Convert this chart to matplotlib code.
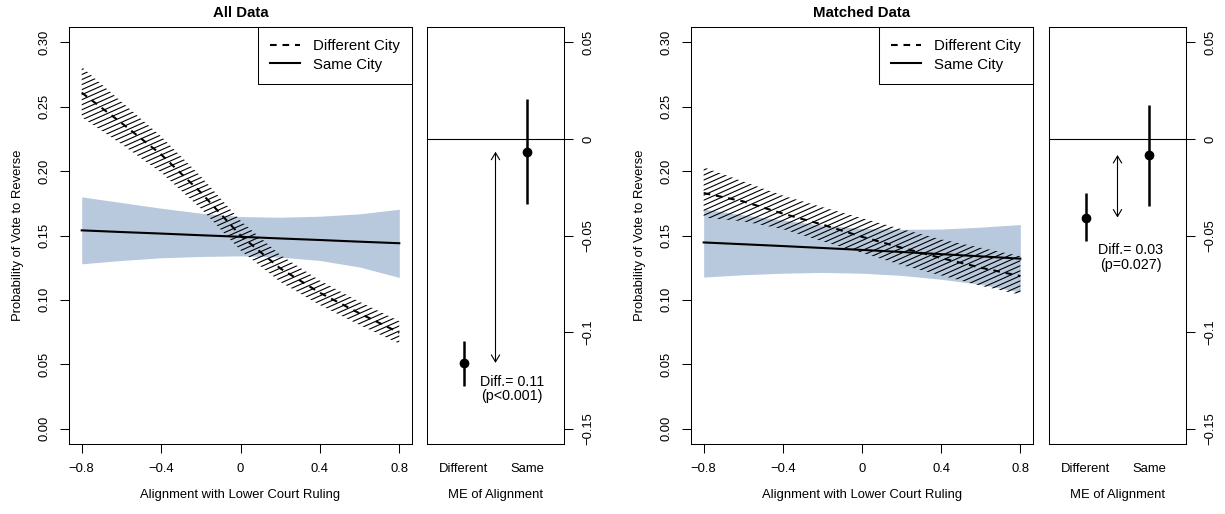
import numpy as np
import matplotlib
matplotlib.use('Agg')
import matplotlib.pyplot as plt
from matplotlib.collections import LineCollection
from matplotlib.patches import Polygon
from matplotlib.transforms import IdentityTransform

plt.rcParams['font.family'] = ['Liberation Sans', 'DejaVu Sans']

# predicted probabilities
x_grid = [-0.8, -0.6, -0.4, -0.2, 0.0, 0.2, 0.4, 0.6, 0.8]

all_diff_fit = [0.261, 0.2375, 0.213, 0.1835, 0.150, 0.1245, 0.1055, 0.0895, 0.0745]
all_diff_hi = [0.281, 0.254, 0.227, 0.196, 0.1615, 0.135, 0.115, 0.0985, 0.0835]
all_diff_lo = [0.242, 0.221, 0.199, 0.171, 0.1385, 0.114, 0.096, 0.0805, 0.066]
all_same_fit = [0.154, 0.1527, 0.1515, 0.1502, 0.149, 0.1477, 0.1465, 0.1452, 0.144]
all_same_hi = [0.180, 0.1756, 0.1712, 0.1673, 0.1647, 0.1642, 0.165, 0.1668, 0.1704]
all_same_lo = [0.128, 0.1306, 0.1327, 0.1337, 0.1342, 0.1332, 0.1306, 0.1255, 0.1174]

mat_diff_fit = [0.183, 0.1765, 0.167, 0.1585, 0.149, 0.1405, 0.1325, 0.125, 0.1185]
mat_diff_hi = [0.203, 0.192, 0.181, 0.172, 0.1635, 0.155, 0.147, 0.1405, 0.134]
mat_diff_lo = [0.164, 0.161, 0.155, 0.1455, 0.1365, 0.127, 0.119, 0.111, 0.104]
mat_same_fit = [0.1446, 0.1432, 0.1418, 0.1403, 0.1388, 0.1372, 0.1355, 0.1338, 0.132]
mat_same_hi = [0.1705, 0.166, 0.162, 0.158, 0.1555, 0.1548, 0.155, 0.1565, 0.1585]
mat_same_lo = [0.1177, 0.1195, 0.1207, 0.1213, 0.1207, 0.119, 0.116, 0.112, 0.106]

# marginal effects of alignment (estimate, lower, upper)
me_groups = ['Different', 'Same']
all_me_est = [-0.116, -0.0066]
all_me_lo = [-0.128, -0.0337]
all_me_hi = [-0.1046, 0.0207]
mat_me_est = [-0.0407, -0.0083]
mat_me_lo = [-0.0528, -0.0345]
mat_me_hi = [-0.0281, 0.0176]

all_note = "Diff.= 0.11\n(p<0.001)"
mat_note = "Diff.= 0.03\n(p=0.027)"

band_col = '#B8C9DD'
W, H = 1225, 514
fig = plt.figure(figsize=(W / 100, H / 100), dpi=100)


def add_ax(l, t, r, b):
    ax = fig.add_axes([l / W, 1 - b / H, (r - l) / W, (b - t) / H])
    for s in ax.spines.values():
        s.set_linewidth(0.75)
    return ax


def hatch_band(ax, x, lo, hi, angle=24, step=4.6):
    verts = list(zip(x, hi)) + list(zip(x[::-1], lo[::-1]))
    poly = Polygon(verts, closed=True, facecolor='none', edgecolor='none')
    ax.add_patch(poly)
    bb = ax.bbox
    cx, cy = (bb.x0 + bb.x1) / 2, (bb.y0 + bb.y1) / 2
    L = np.hypot(bb.width, bb.height)
    t = np.radians(angle)
    d = np.array([np.cos(t), np.sin(t)])
    n = np.array([-np.sin(t), np.cos(t)])
    segs = []
    for k in range(-int(L / step) - 1, int(L / step) + 2):
        p = np.array([cx, cy]) + k * step * n
        segs.append([p - L * d, p + L * d])
    lc = LineCollection(segs, colors='black', linewidths=0.8,
                        transform=IdentityTransform(), zorder=2)
    ax.add_collection(lc)
    lc.set_clip_path(poly)


def main_panel(ax, title, dfit, dlo, dhi, sfit, slo, shi):
    ax.fill_between(x_grid, slo, shi, color=band_col, lw=0, zorder=1)
    hatch_band(ax, x_grid, dlo, dhi)
    ax.plot(x_grid, dfit, color='black', lw=1.5, dashes=(3.2, 2.8),
            label='Different City', zorder=3)
    ax.plot(x_grid, sfit, color='black', lw=1.5, label='Same City', zorder=4)
    ax.set_xlim(-0.864, 0.864)
    ax.set_ylim(-0.012, 0.312)
    ax.set_xticks([-0.8, -0.4, 0, 0.4, 0.8])
    ax.set_xticklabels(['\u22120.8', '\u22120.4', '0', '0.4', '0.8'])
    yt = [0, 0.05, 0.10, 0.15, 0.20, 0.25, 0.30]
    ax.set_yticks(yt)
    ax.set_yticklabels([f'{v:.2f}' for v in yt], rotation=90, va='center')
    ax.tick_params(direction='out', length=6.5, width=0.75, labelsize=9.4, pad=7)
    ax.set_xlabel('Alignment with Lower Court Ruling', fontsize=9.4, labelpad=10)
    ax.set_ylabel('Probability of Vote to Reverse', fontsize=9.4, labelpad=10)
    ax.set_title(title, fontweight='bold', fontsize=10.8, pad=7)
    leg = ax.legend(loc='upper right', borderaxespad=0, fancybox=False,
                    edgecolor='black', framealpha=1, fontsize=10.8,
                    handlelength=1.95, handletextpad=0.9, borderpad=0.8,
                    labelspacing=0.3)
    leg.get_frame().set_linewidth(0.75)


def me_panel(ax, est, lo, hi, note, note_x, note_y):
    ax.axhline(0, color='black', lw=0.8)
    xs = [1, 2]
    ax.vlines(xs, lo, hi, color='black', lw=1.8)
    ax.plot(xs, est, 'o', color='black', ms=6)
    ax.annotate('', xy=(1.5, est[0]), xytext=(1.5, est[1]),
                arrowprops=dict(arrowstyle='<->,head_length=0.5,head_width=0.3',
                                lw=0.8, color='black', shrinkA=0, shrinkB=0))
    ax.text(note_x, note_y, note, ha='center', va='center', fontsize=10.3,
            linespacing=1.05)
    ax.set_xlim(0.42, 2.58)
    ax.set_ylim(-0.158, 0.058)
    ax.set_xticks(xs)
    ax.set_xticklabels(me_groups)
    ax.yaxis.tick_right()
    yt = [0.05, 0, -0.05, -0.1, -0.15]
    ax.set_yticks(yt)
    ax.set_yticklabels(['0.05', '0', '\u22120.05', '\u22120.1', '\u22120.15'],
                       rotation=90, va='center')
    ax.tick_params(axis='y', direction='out', length=6.5, width=0.75,
                   labelsize=9.4, pad=7)
    ax.tick_params(axis='x', length=0, labelsize=9.4, pad=13.5)
    ax.set_xlabel('ME of Alignment', fontsize=9.4, labelpad=10)


ax1 = add_ax(69, 27, 412, 444)
main_panel(ax1, 'All Data', all_diff_fit, all_diff_lo, all_diff_hi,
           all_same_fit, all_same_lo, all_same_hi)
ax2 = add_ax(427, 27, 564, 444)
me_panel(ax2, all_me_est, all_me_lo, all_me_hi, all_note, 1.76, -0.1295)

ax3 = add_ax(691, 27, 1033, 444)
main_panel(ax3, 'Matched Data', mat_diff_fit, mat_diff_lo, mat_diff_hi,
           mat_same_fit, mat_same_lo, mat_same_hi)
ax4 = add_ax(1049, 27, 1186, 444)
me_panel(ax4, mat_me_est, mat_me_lo, mat_me_hi, mat_note, 1.71, -0.0613)

fig.savefig('out.png', dpi=100)
